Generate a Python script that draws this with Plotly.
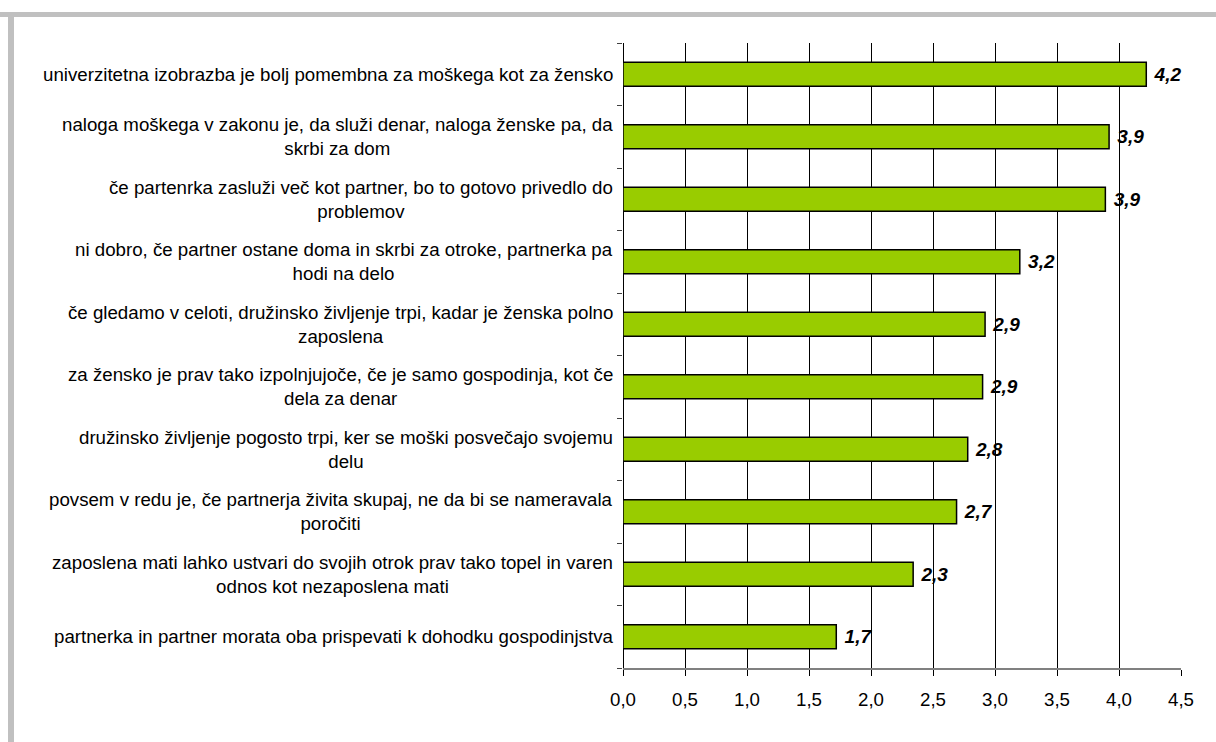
import plotly.graph_objects as go

# statements, top to bottom as in the chart
statements = [
    "univerzitetna izobrazba je bolj pomembna za moškega kot za žensko",
    "naloga moškega v zakonu je, da služi denar, naloga ženske pa, da<br>skrbi za dom",
    "če partenrka zasluži več kot partner, bo to gotovo privedlo do<br>problemov",
    "ni dobro, če partner ostane doma in skrbi za otroke, partnerka pa<br>hodi na delo",
    "če gledamo v celoti, družinsko življenje trpi, kadar je ženska polno<br>zaposlena",
    "za žensko je prav tako izpolnjujoče, če je samo gospodinja, kot če<br>dela za denar",
    "družinsko življenje pogosto trpi, ker se moški posvečajo svojemu<br>delu",
    "povsem v redu je, če partnerja živita skupaj, ne da bi se nameravala<br>poročiti",
    "zaposlena mati lahko ustvari do svojih otrok prav tako topel in varen<br>odnos kot nezaposlena mati",
    "partnerka in partner morata oba prispevati k dohodku gospodinjstva",
]
scores = [4.22, 3.92, 3.89, 3.20, 2.92, 2.90, 2.78, 2.69, 2.34, 1.72]

x_ticks = [0, 0.5, 1, 1.5, 2, 2.5, 3, 3.5, 4, 4.5]

cats = [f"s{i}" for i in range(len(statements))]

FONT = "Liberation Sans, Arial, sans-serif"

fig = go.Figure()
fig.add_trace(
    go.Bar(
        x=scores,
        y=cats,
        orientation="h",
        marker=dict(color="#99CC00", line=dict(color="#000000", width=1.5)),
        texttemplate=" %{x:.1f}",
        textposition="outside",
        textfont=dict(family=FONT, size=19, color="#000000",
                      weight="bold", style="italic"),
        cliponaxis=False,
        hoverinfo="skip",
    )
)

# category labels, centred lines like the original Excel chart
for c, s in zip(cats, statements):
    fig.add_annotation(
        x=0, xref="paper", y=c, yref="y",
        text=s, showarrow=False,
        xanchor="right", xshift=-8, align="center",
        font=dict(family=FONT, size=18.7, color="#000000"),
    )

fig.update_xaxes(
    range=[0, 4.5],
    tickvals=x_ticks,
    tickformat=".1f",
    showgrid=True, gridcolor="#000000", gridwidth=1,
    zeroline=True, zerolinecolor="#000000", zerolinewidth=1,
    showline=True, linecolor="#808080", linewidth=2,
    ticks="outside", ticklen=6, tickcolor="#000000", tickwidth=1,
    ticklabelstandoff=8,
    tickfont=dict(family=FONT, size=18.7, color="#000000"),
    fixedrange=True,
)
fig.update_yaxes(
    categoryorder="array", categoryarray=cats[::-1],
    showticklabels=False,
    showgrid=False,
    ticks="outside", tickson="boundaries", ticklen=5,
    tickcolor="#404040", tickwidth=1,
    showline=False,
    fixedrange=True,
)

# grey frame along the top and left edge
fig.add_shape(type="rect", xref="paper", yref="paper",
              x0=-623 / 558, x1=1.1, y0=1 + 26 / 624.4, y1=1 + 31 / 624.4,
              fillcolor="#C0C0C0", line_width=0, layer="below")
fig.add_shape(type="rect", xref="paper", yref="paper",
              x0=-615 / 558, x1=-609 / 558, y0=-0.2, y1=1 + 31 / 624.4,
              fillcolor="#C0C0C0", line_width=0, layer="below")

fig.update_layout(
    width=1216, height=742,
    margin=dict(l=623, r=35, t=43, b=74),
    bargap=0.615,
    separators=",.",
    showlegend=False,
    plot_bgcolor="#FFFFFF",
    paper_bgcolor="#FFFFFF",
    font=dict(family=FONT, size=18.7, color="#000000"),
)

fig.write_html(
    "out.html",
    config={"displayModeBar": False},
    post_script="document.body.style.margin='0';",
)
